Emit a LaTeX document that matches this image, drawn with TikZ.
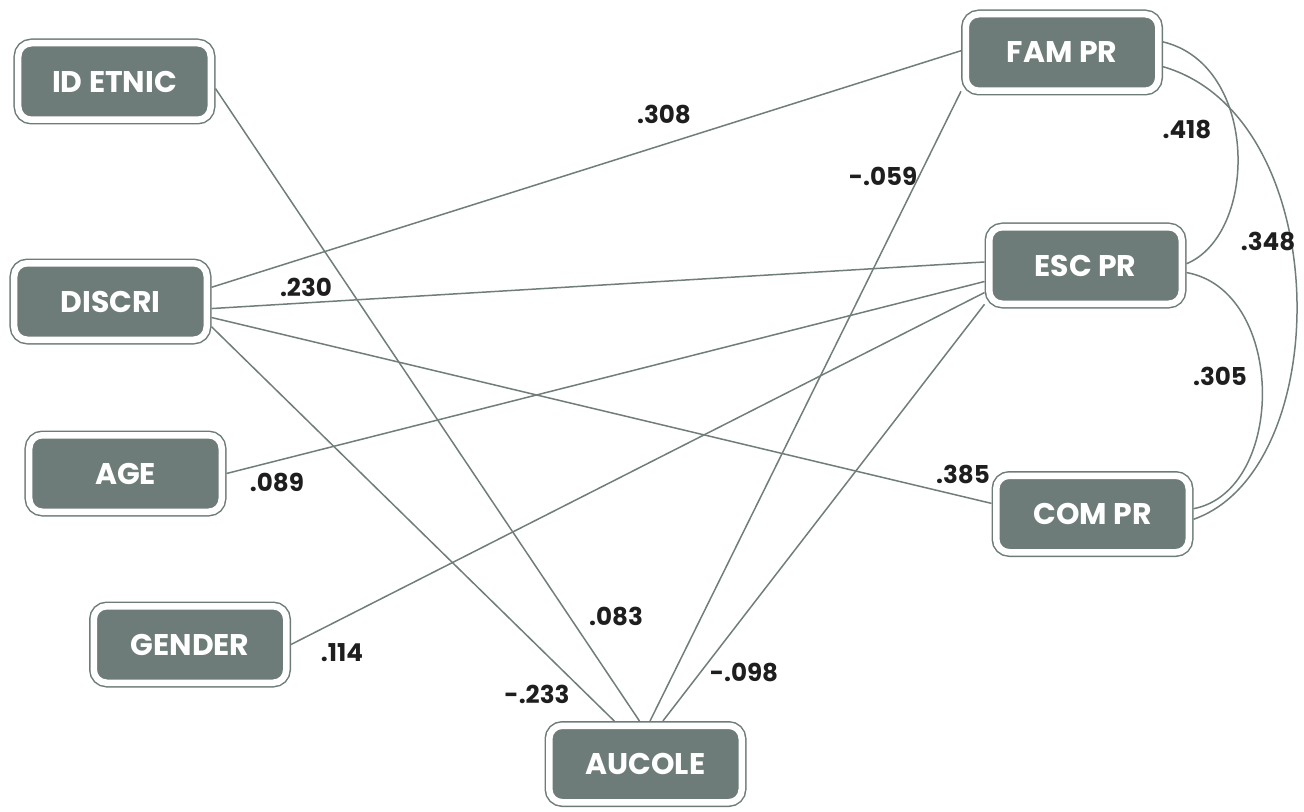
\documentclass[tikz,border=0pt]{standalone}
\usepackage{fontspec}
\setmainfont{Poppins}
\usepackage{tikz}
\usetikzlibrary{calc}
\definecolor{boxgray}{RGB}{110,124,121}
\definecolor{linegray}{RGB}{112,126,123}
\definecolor{numblack}{RGB}{30,30,30}

\begin{document}
\begin{tikzpicture}[x=0.2mm,y=-0.2mm,
  var/.style={draw=boxgray,fill=boxgray,line width=0.3mm,double=white,double distance=1.3mm,
    rounded corners=2.6mm,minimum width=38.5mm,minimum height=15.3mm,inner sep=0pt,outer sep=0.95mm,
    text=white,font=\fontsize{17}{20}\selectfont\bfseries},
  coef/.style={text=numblack,inner sep=0pt,font=\fontsize{14}{16}\selectfont\bfseries},
  link/.style={draw=linegray,line width=0.3mm}]
\useasboundingbox (0,0) rectangle (1304,811);
% variables
\draw node [var] (idetnic) at (114.5,81.5) {ID ETNIC};
\draw node [var] (discri)  at (110.5,301.5) {DISCRI};
\draw node [var] (age)     at (125.5,473.5) {AGE};
\draw node [var] (gender)  at (190,644.5)   {GENDER};
\draw node [var] (aucole)  at (645.5,764)   {AUCOLE};
\draw node [var] (fampr)   at (1062,52.5)   {FAM PR};
\draw node [var] (escpr)   at (1085.5,265.5) {ESC PR};
\draw node [var] (compr)   at (1092.5,514)  {COM PR};
% paths
\draw [link] (idetnic.-4) -- (aucole.98);
\draw [link] (discri.8) -- (fampr.179);
\draw [link] (discri.-4) -- (escpr.178);
\draw [link] (discri.-9) -- (compr.174);
\draw [link] (discri.-14) -- (aucole.126);
\draw [link] (age.east) -- (escpr.-171);
\draw [link] (gender.east) -- (escpr.-165);
\draw [link] (fampr.-159) -- (aucole.84);
\draw [link] (escpr.-159) -- (aucole.68);
% correlations
\draw [link] (fampr.6) .. controls ($ (fampr.6) + (96,23) $) and ($ (escpr.1) + (72,-30) $) .. (escpr.1);
\draw [link] (fampr.-8) .. controls ($ (fampr.-8) + (173,50) $) and ($ (compr.-3) + (143,-50) $) .. (compr.-3);
\draw [link] (escpr.-4) .. controls ($ (escpr.-4) + (100,18) $) and ($ (compr.3) + (93,-18) $) .. (compr.3);
% weights
\draw node [coef] (w308) at (664,114) {.308};
\draw node [coef] (w230) at (306,287) {.230};
\draw node [coef] (w059) at (883,176) {-.059};
\draw node [coef] (w418) at (1187,130) {.418};
\draw node [coef] (w348) at (1268,241) {.348};
\draw node [coef] (w305) at (1220,376) {.305};
\draw node [coef] (w385) at (963,474) {.385};
\draw node [coef] (w089) at (277,482) {.089};
\draw node [coef] (w114) at (342,653) {.114};
\draw node [coef] (w083) at (616,616) {.083};
\draw node [coef] (w233) at (537,694) {-.233};
\draw node [coef] (w098) at (744,672) {-.098};
\end{tikzpicture}
\end{document}
